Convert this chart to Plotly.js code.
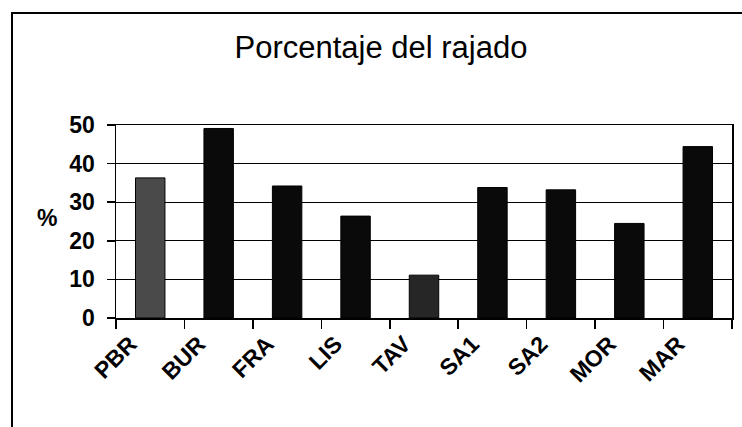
<!DOCTYPE html>
<html>
<head>
<meta charset="utf-8">
<script src="https://cdn.plot.ly/plotly-3.0.1.min.js"></script>
<style>
  html, body { margin: 0; padding: 0; background: #fff; }
  #chart { width: 742px; height: 427px; }
</style>
</head>
<body>
<div id="chart"></div>
<script>
const categories = ["PBR", "BUR", "FRA", "LIS", "TAV", "SA1", "SA2", "MOR", "MAR"];
const rajado = [36.3, 49.1, 34.2, 26.4, 11.1, 33.8, 33.2, 24.5, 44.4];
const barColors = ["#4a4a4a", "#0a0a0a", "#0a0a0a", "#0a0a0a", "#262626", "#0a0a0a", "#0a0a0a", "#0a0a0a", "#0a0a0a"];
const yTicks = [0, 10, 20, 30, 40, 50];
const chartTitle = "Porcentaje del rajado";
const yTitle = "%";

const font = "Arial, 'Liberation Sans', sans-serif";

const trace = {
  type: "bar",
  x: categories,
  y: rajado,
  marker: { color: barColors, line: { color: "#000", width: 1 } },
  hoverinfo: "x+y"
};

const layout = {
  width: 742,
  height: 427,
  margin: { l: 116, r: 10, t: 125, b: 109, pad: 0 },
  paper_bgcolor: "#fff",
  plot_bgcolor: "#fff",
  showlegend: false,
  bargap: 0.57,
  font: { family: font, color: "#000" },
  title: {
    text: chartTitle,
    font: { family: font, size: 31, color: "#000" },
    x: 381 / 742, xref: "container", xanchor: "center",
    y: 1 - 47 / 427, yref: "container", yanchor: "middle"
  },
  xaxis: {
    type: "category",
    tickangle: -45,
    tickfont: { family: font, size: 23, color: "#000", weight: "bold" },
    ticks: "outside",
    tickson: "boundaries",
    ticklen: 9,
    tickwidth: 1.5,
    tickcolor: "#000",
    ticklabelshift: -20,
    ticklabelstandoff: 2,
    showline: true,
    linecolor: "#000",
    linewidth: 1.5,
    mirror: true,
    showgrid: false,
    zeroline: false
  },
  yaxis: {
    range: [0, 50],
    tickvals: yTicks,
    ticktext: yTicks.map(String),
    tickfont: { family: font, size: 23, color: "#000", weight: "bold" },
    ticks: "outside",
    ticklen: 8,
    tickwidth: 1.5,
    tickcolor: "#000",
    ticklabelstandoff: 7,
    showline: true,
    linecolor: "#000",
    linewidth: 1.5,
    mirror: true,
    showgrid: true,
    gridcolor: "#000",
    gridwidth: 1,
    zeroline: false
  },
  annotations: [
    {
      text: yTitle, showarrow: false,
      xref: "paper", yref: "paper",
      x: (47 - 116) / 616, y: (318 - 218) / 193,
      xanchor: "center", yanchor: "middle",
      font: { family: font, size: 23, color: "#000", weight: "bold" }
    }
  ],
  shapes: [
    {
      type: "rect", xref: "paper", yref: "paper",
      x0: (12 - 116) / 616, x1: (760 - 116) / 616,
      y0: (318 - 440) / 193, y1: (318 - 13) / 193,
      line: { color: "#000", width: 2 }, fillcolor: "rgba(0,0,0,0)", layer: "below"
    }
  ]
};

Plotly.newPlot("chart", [trace], layout, { displayModeBar: false, staticPlot: true });
</script>
</body>
</html>
